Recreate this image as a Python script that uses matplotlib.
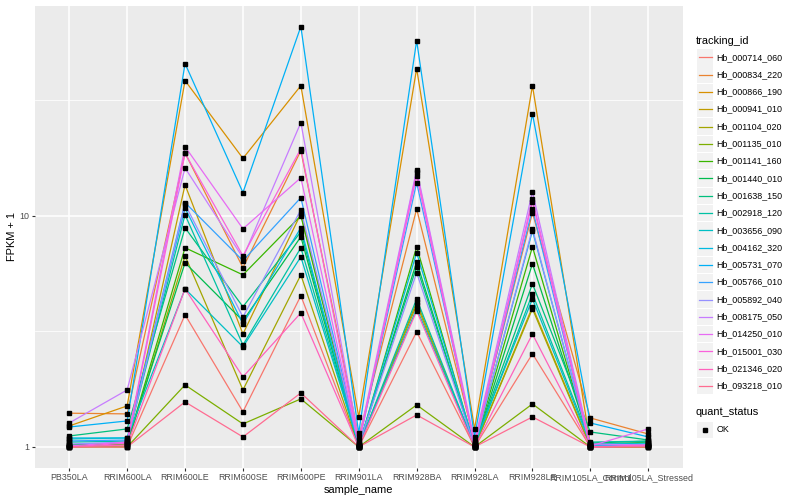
import numpy as np
import matplotlib
matplotlib.use("Agg")
import matplotlib.pyplot as plt
from matplotlib.patches import Rectangle
from matplotlib.lines import Line2D

plt.rcParams['font.family'] = ['Liberation Sans', 'DejaVu Sans']

samples = ["PB350LA", "RRIM600LA", "RRIM600LE", "RRIM600SE", "RRIM600PE",
           "RRIM901LA", "RRIM928BA", "RRIM928LA", "RRIM928LE",
           "RRIM105LA_Control", "RRIM105LA_Stressed"]

genes = ["Hb_000714_060", "Hb_000834_220", "Hb_000866_190", "Hb_000941_010",
         "Hb_001104_020", "Hb_001135_010", "Hb_001141_160", "Hb_001440_010",
         "Hb_001638_150", "Hb_002918_120", "Hb_003656_090", "Hb_004162_320",
         "Hb_005731_070", "Hb_005766_010", "Hb_005892_040", "Hb_008175_050",
         "Hb_014250_010", "Hb_015001_030", "Hb_021346_020", "Hb_093218_010"]

colors = ["#F8766D", "#EA8331", "#D89000", "#C09B00", "#A3A500", "#7CAE00",
          "#39B600", "#00BB4E", "#00BF7D", "#00C1A3", "#00BFC4", "#00BAE0",
          "#00B0F6", "#35A2FF", "#9590FF", "#C77CFF", "#E76BF3", "#FA62DB",
          "#FF62BC", "#FF6C91"]

# FPKM + 1 values, one list per gene, in sample order
Hb_000714_060 = [1.01, 1.00, 3.73, 1.42, 4.51, 1.00, 3.15, 1.00, 2.53, 1.00, 1.01]
Hb_000834_220 = [1.40, 1.39, 18.7, 5.96, 19.1, 1.105, 10.7, 1.05, 10.3, 1.335, 1.138]
Hb_000866_190 = [1.233, 1.505, 38.4, 17.7, 36.5, 1.349, 43.3, 1.197, 36.5, 1.03, 1.02]
Hb_000941_010 = [1.02, 1.03, 13.6, 3.08, 10.2, 1.01, 4.12, 1.00, 4.04, 1.01, 1.00]
Hb_001104_020 = [1.00, 1.01, 6.71, 1.765, 5.55, 1.00, 4.24, 1.00, 3.96, 1.00, 1.00]
Hb_001135_010 = [1.00, 1.00, 1.855, 1.258, 1.614, 1.00, 1.52, 1.00, 1.535, 1.00, 1.00]
Hb_001141_160 = [1.01, 1.03, 7.27, 5.55, 10.0, 1.00, 7.34, 1.01, 7.34, 1.02, 1.05]
Hb_001440_010 = [1.02, 1.04, 6.26, 3.51, 8.11, 1.00, 6.32, 1.00, 6.20, 1.04, 1.06]
Hb_001638_150 = [1.116, 1.197, 8.87, 4.04, 8.52, 1.02, 6.02, 1.02, 5.08, 1.161, 1.072]
Hb_002918_120 = [1.05, 1.06, 10.1, 2.76, 7.27, 1.01, 4.37, 1.01, 4.60, 1.05, 1.06]
Hb_003656_090 = [1.083, 1.094, 4.83, 2.71, 6.64, 1.02, 3.96, 1.03, 4.37, 1.03, 1.04]
Hb_004162_320 = [1.094, 1.094, 10.8, 3.41, 8.87, 1.01, 6.92, 1.02, 8.61, 1.02, 1.03]
Hb_005731_070 = [1.22, 1.296, 45.5, 12.6, 65.8, 1.15, 57.2, 1.105, 27.6, 1.27, 1.105]
Hb_005766_010 = [1.062, 1.072, 11.4, 6.39, 11.97, 1.03, 13.9, 1.04, 10.7, 1.01, 1.02]
Hb_005892_040 = [1.03, 1.05, 11.2, 3.65, 10.6, 1.02, 5.67, 1.01, 8.78, 1.00, 1.01]
Hb_008175_050 = [1.27, 1.765, 16.1, 6.58, 25.3, 1.072, 15.8, 1.06, 12.7, 1.03, 1.02]
Hb_014250_010 = [1.01, 1.05, 19.9, 8.78, 14.6, 1.03, 15.5, 1.03, 11.85, 1.01, 1.197]
Hb_015001_030 = [1.00, 1.04, 18.6, 6.71, 19.5, 1.041, 14.9, 1.02, 11.5, 1.00, 1.02]
Hb_021346_020 = [1.00, 1.02, 4.83, 2.01, 3.80, 1.00, 3.88, 1.00, 3.08, 1.00, 1.01]
Hb_093218_010 = [1.00, 1.00, 1.566, 1.105, 1.713, 1.00, 1.376, 1.00, 1.349, 1.00, 1.00]

values = [Hb_000714_060, Hb_000834_220, Hb_000866_190, Hb_000941_010,
          Hb_001104_020, Hb_001135_010, Hb_001141_160, Hb_001440_010,
          Hb_001638_150, Hb_002918_120, Hb_003656_090, Hb_004162_320,
          Hb_005731_070, Hb_005766_010, Hb_005892_040, Hb_008175_050,
          Hb_014250_010, Hb_015001_030, Hb_021346_020, Hb_093218_010]

W, H = 800, 500
fig = plt.figure(figsize=(8, 5), dpi=100)
pl, pr, pt, pb = 34.5, 683, 5.5, 468
ax = fig.add_axes([pl / W, 1 - pb / H, (pr - pl) / W, (pb - pt) / H])
ax.set_facecolor("#EBEBEB")
for s in ax.spines.values():
    s.set_visible(False)

x = np.arange(len(samples))
for vals, col in zip(values, colors):
    ax.plot(x, vals, color=col, lw=0.9, zorder=2)
for vals in values:
    ax.plot(x, vals, ls="none", marker="s", ms=2.4, color="black", zorder=3)

ax.set_yscale("log")
allv = np.log10(np.concatenate([np.asarray(v) for v in values]))
lo, hi = allv.min(), allv.max()
ex = 0.05 * (hi - lo)
ax.set_ylim(10 ** (lo - ex), 10 ** (hi + ex))
ax.set_xlim(-0.6, len(samples) - 1 + 0.6)
ax.set_yticks([1, 10])
ax.set_yticklabels(["1", "10"])
ax.yaxis.set_minor_locator(matplotlib.ticker.FixedLocator([10 ** 0.5, 10 ** 1.5]))
ax.yaxis.set_minor_formatter(matplotlib.ticker.NullFormatter())
ax.set_xticks(x)
ax.set_xticklabels(samples)
ax.grid(which="major", color="white", lw=1.1, zorder=0)
ax.grid(which="minor", axis="y", color="white", lw=0.55, zorder=0)
ax.set_axisbelow(True)
ax.tick_params(axis="both", which="major", length=2.0, width=0.8, color="#333333",
               labelsize=6.4, labelcolor="#4D4D4D", pad=1.6)
ax.tick_params(axis="y", which="minor", length=0)
ax.set_xlabel("sample_name", fontsize=7.9, color="black", labelpad=2.0)
ax.set_ylabel("FPKM + 1", fontsize=7.9, color="black", labelpad=2.0)

# legend: tracking_id
def px(xp, yp):
    return xp / W, 1 - yp / H

fig.text(*px(696, 40.5), "tracking_id", fontsize=7.9, va="center", ha="left")
y0, dy = 57.3, 17.3
for i, (g, c) in enumerate(zip(genes, colors)):
    yc = y0 + i * dy
    bx, by = px(697, yc + 8.2)
    fig.patches.append(Rectangle((bx, by), 16 / W, 16.4 / H, transform=fig.transFigure,
                                 facecolor="#F2F2F2", edgecolor="none"))
    lx0, ly = px(698.5, yc)
    lx1, _ = px(711.5, yc)
    fig.lines.append(Line2D([lx0, lx1], [ly, ly], transform=fig.transFigure, color=c, lw=0.9))
    fig.text(*px(716.5, yc), g, fontsize=6.4, va="center", ha="left")

fig.text(*px(696, 412), "quant_status", fontsize=7.9, va="center", ha="left")
yc = 430
bx, by = px(697, yc + 8.2)
fig.patches.append(Rectangle((bx, by), 16 / W, 16.4 / H, transform=fig.transFigure,
                             facecolor="#F2F2F2", edgecolor="none"))
mx, my = px(705, yc)
fig.lines.append(Line2D([mx], [my], transform=fig.transFigure, ls="none", marker="s",
                        ms=2.4, color="black"))
fig.text(*px(716.5, yc), "OK", fontsize=6.4, va="center", ha="left")

fig.savefig("out.png", dpi=100)
